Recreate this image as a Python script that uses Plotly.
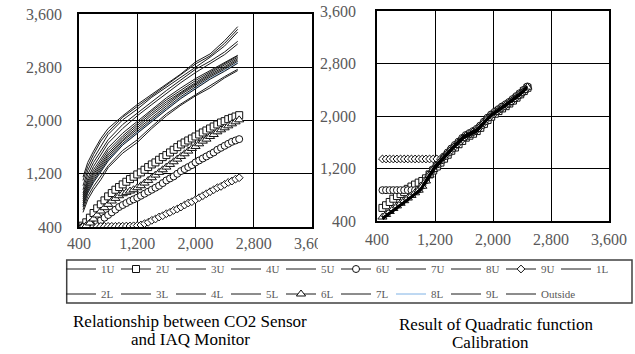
import plotly.graph_objects as go

# ---------------- Left chart data (CO2 sensor vs IAQ monitor) ----------------
L_X = [455, 520, 600, 700, 800, 1000, 1200, 1400, 1600, 1800, 2000, 2200, 2400, 2580]
L_1U = [1150, 1370, 1540, 1730, 1880, 2070, 2240, 2390, 2540, 2700, 2880, 3000, 3200, 3410]
L_3U = [1100, 1310, 1490, 1690, 1830, 2050, 2210, 2370, 2520, 2680, 2850, 2970, 3160, 3370]
L_4U = [1020, 1250, 1430, 1610, 1790, 2010, 2170, 2350, 2500, 2650, 2810, 2950, 3120, 3330]
L_5U = [960, 1190, 1370, 1550, 1710, 1940, 2110, 2290, 2450, 2610, 2770, 2890, 3030, 3190]
L_7U = [910, 1130, 1310, 1490, 1660, 1880, 2070, 2240, 2410, 2570, 2720, 2850, 2990, 3150]
L_8U = [880, 1090, 1260, 1430, 1590, 1810, 1990, 2170, 2340, 2490, 2630, 2750, 2870, 2980]
L_1L = [850, 1060, 1220, 1390, 1550, 1770, 1960, 2140, 2310, 2460, 2600, 2730, 2850, 2970]
L_2L = [820, 1030, 1190, 1360, 1510, 1740, 1930, 2110, 2280, 2430, 2570, 2710, 2830, 2950]
L_3L = [790, 1000, 1160, 1330, 1480, 1710, 1900, 2080, 2250, 2410, 2550, 2690, 2810, 2930]
L_4L = [760, 970, 1130, 1300, 1450, 1690, 1870, 2050, 2220, 2390, 2530, 2670, 2790, 2910]
L_5L = [730, 940, 1100, 1270, 1420, 1660, 1840, 2020, 2190, 2360, 2500, 2650, 2770, 2890]
L_7L = [700, 910, 1070, 1240, 1390, 1630, 1810, 1990, 2160, 2330, 2470, 2620, 2740, 2860]
L_8L = [720, 920, 1080, 1250, 1400, 1640, 1820, 2000, 2170, 2340, 2480, 2630, 2750, 2870]
L_9L = [660, 860, 1010, 1160, 1320, 1550, 1710, 1910, 2100, 2250, 2390, 2520, 2660, 2770]
L_OUT = [620, 810, 960, 1110, 1290, 1510, 1670, 1880, 2070, 2230, 2370, 2490, 2640, 2750]

LM_X = [450, 500, 550, 600, 650, 700, 750, 800, 850, 900, 950, 1000, 1050, 1100, 1150,
        1200, 1250, 1300, 1350, 1400, 1450, 1500, 1550, 1600, 1650, 1700, 1750, 1800,
        1850, 1900, 1950, 2000, 2050, 2100, 2150, 2200, 2250, 2300, 2350, 2400, 2450,
        2500, 2550, 2600]
LM_2U = [420, 470, 540, 610, 680, 740, 800, 860, 910, 960, 1000, 1040, 1080, 1120, 1155,
         1190, 1220, 1260, 1300, 1340, 1370, 1410, 1450, 1480, 1520, 1560, 1600, 1640,
         1670, 1700, 1730, 1760, 1790, 1820, 1850, 1880, 1910, 1940, 1970, 1990, 2020,
         2040, 2060, 2080]
LM_6L = [400, 420, 460, 520, 580, 640, 690, 740, 790, 830, 870, 900, 920, 940, 960,
         990, 1020, 1060, 1100, 1140, 1180, 1220, 1260, 1300, 1340, 1380, 1420, 1460,
         1500, 1540, 1580, 1610, 1650, 1690, 1720, 1760, 1790, 1830, 1860, 1890, 1920,
         1950, 1980, 2010]
LM_6U = [400, 410, 420, 440, 470, 500, 540, 580, 620, 660, 700, 730, 760, 790, 815,
         840, 870, 900, 930, 960, 990, 1020, 1060, 1100, 1130, 1160, 1200, 1240,
         1270, 1300, 1330, 1370, 1400, 1430, 1460, 1490, 1520, 1560, 1590, 1620, 1650,
         1680, 1700, 1720]
LM_9U = [410, 410, 410, 410, 410, 410, 410, 410, 410, 410, 412, 412, 414, 415, 418,
         422, 430, 450, 470, 500, 520, 550, 570, 600, 620, 650, 670, 700,
         730, 760, 780, 810, 840, 870, 900, 930, 960, 990, 1010, 1040, 1070,
         1090, 1120, 1140]

# ---------------- Right chart data (after quadratic calibration) ----------------
R_X = [480, 600, 700, 800, 900, 1000, 1100, 1200, 1450, 1600, 1780, 1960, 2190, 2370, 2470]
R_1U = [445, 540, 625, 710, 795, 885, 1060, 1230, 1525, 1690, 1790, 2005, 2185, 2340, 2450]
R_3U = [435, 530, 615, 700, 785, 870, 1040, 1210, 1510, 1670, 1770, 1990, 2170, 2320, 2430]
R_4U = [450, 545, 630, 715, 800, 890, 1070, 1240, 1535, 1700, 1800, 2015, 2195, 2345, 2455]
R_5U = [430, 525, 610, 695, 780, 865, 1030, 1200, 1500, 1665, 1765, 1985, 2165, 2315, 2425]
R_7U = [440, 535, 620, 705, 790, 880, 1050, 1220, 1520, 1680, 1780, 2000, 2180, 2330, 2440]
R_8U = [455, 550, 635, 720, 805, 895, 1080, 1250, 1540, 1705, 1810, 2020, 2200, 2350, 2460]
R_1L = [425, 520, 605, 690, 775, 860, 1020, 1190, 1495, 1660, 1760, 1980, 2160, 2310, 2420]
R_2L = [445, 538, 622, 708, 792, 882, 1055, 1225, 1522, 1684, 1785, 2002, 2183, 2333, 2443]
R_3L = [438, 532, 618, 702, 788, 876, 1045, 1215, 1515, 1676, 1775, 1996, 2176, 2326, 2436]
R_4L = [448, 542, 628, 712, 798, 888, 1065, 1235, 1530, 1695, 1795, 2010, 2190, 2340, 2450]
R_5L = [432, 528, 612, 698, 782, 868, 1035, 1205, 1505, 1668, 1768, 1988, 2168, 2318, 2428]
R_7L = [442, 536, 621, 706, 791, 879, 1048, 1218, 1518, 1678, 1778, 1998, 2178, 2328, 2438]
R_8L = [446, 541, 626, 711, 796, 886, 1062, 1232, 1528, 1692, 1792, 2008, 2188, 2338, 2448]
R_9L = [436, 531, 616, 701, 786, 872, 1042, 1212, 1512, 1672, 1772, 1992, 2172, 2322, 2432]
R_OUT = [441, 537, 619, 704, 789, 878, 1052, 1222, 1521, 1682, 1782, 2001, 2181, 2331, 2441]

RM_X = [475, 525, 575, 625, 675, 725, 775, 825, 875, 925, 975, 1025, 1075, 1125, 1175,
        1225, 1275, 1325, 1375, 1425, 1475, 1525, 1575, 1625, 1675, 1725, 1775, 1825,
        1875, 1925, 1975, 2025, 2075, 2125, 2175, 2225, 2275, 2325, 2375, 2425, 2475]
RM_2U = [600, 640, 690, 740, 780, 810, 840, 890, 925, 955, 985, 1010, 1050, 1110, 1170,
         1230, 1290, 1350, 1410, 1470, 1520, 1570, 1620, 1670, 1700, 1730, 1770, 1820,
         1880, 1940, 1990, 2035, 2075, 2115, 2150, 2190, 2235, 2280, 2330, 2380, 2430]
RM_6U = [870, 870, 870, 870, 870, 870, 870, 870, 870, 870, 880, 940, 1020, 1110, 1190,
         1260, 1320, 1385, 1445, 1505, 1560, 1610, 1665, 1710, 1740, 1770, 1805, 1855,
         1915, 1975, 2025, 2065, 2105, 2145, 2180, 2215, 2260, 2305, 2350, 2400, 2450]
RM_9U = [1345, 1345, 1345, 1345, 1345, 1345, 1345, 1345, 1345, 1345, 1345, 1345, 1345, 1345, 1345,
         1345, 1345, 1375, 1425, 1480, 1535, 1585, 1640, 1690, 1720, 1750, 1785, 1835,
         1895, 1955, 2005, 2045, 2085, 2125, 2160, 2195, 2240, 2285, 2330, 2380, 2430]
RM_6L = [460, 500, 545, 590, 630, 670, 710, 750, 790, 830, 870, 930, 1010, 1100, 1185,
         1255, 1315, 1375, 1435, 1495, 1550, 1600, 1655, 1700, 1730, 1760, 1795, 1845,
         1905, 1965, 2015, 2055, 2095, 2135, 2170, 2205, 2250, 2295, 2340, 2390, 2440]

TICK_VALS = [400, 1200, 2000, 2800, 3600]
TICK_TEXT = ["400", "1,200", "2,000", "2,800", "3,600"]
CAPTION_LEFT = ["Relationship between CO2 Sensor", "and IAQ Monitor"]
CAPTION_RIGHT = ["Result of Quadratic function", "Calibration"]

W, H = 635, 354
SERIF = "'Liberation Serif', 'Times New Roman', Times, serif"
LINE_C = "#1a1a1a"


def px(v):
    return v / W


def py(v):
    return 1 - v / H


line_series = [
    ("1U", 1, L_1U, R_1U), ("3U", 3, L_3U, R_3U), ("4U", 4, L_4U, R_4U),
    ("5U", 5, L_5U, R_5U), ("7U", 7, L_7U, R_7U), ("8U", 8, L_8U, R_8U),
    ("1L", 10, L_1L, R_1L), ("2L", 11, L_2L, R_2L), ("3L", 12, L_3L, R_3L),
    ("4L", 13, L_4L, R_4L), ("5L", 14, L_5L, R_5L), ("7L", 16, L_7L, R_7L),
    ("9L", 18, L_9L, R_9L), ("Outside", 19, L_OUT, R_OUT),
]
marker_series = [
    ("2U", 2, LM_2U, RM_2U, "square", 7),
    ("6U", 6, LM_6U, RM_6U, "circle", 7),
    ("9U", 9, LM_9U, RM_9U, "diamond", 6),
    ("6L", 15, LM_6L, RM_6L, "triangle-up", 8),
]

fig = go.Figure()


def which_legend(rank):
    return "legend" if rank <= 10 else "legend2"


fig.add_trace(go.Scatter(x=L_X, y=L_8L, mode="lines", name="8L",
                         line=dict(color="#7fb2e5", width=1),
                         legendrank=17, legend="legend2", xaxis="x", yaxis="y"))
for name, rank, ly, ry in line_series:
    fig.add_trace(go.Scatter(x=L_X, y=ly, mode="lines", name=name,
                             line=dict(color=LINE_C, width=1),
                             legendrank=rank, legend=which_legend(rank),
                             legendwidth=(45 if name == "Outside" else None),
                             xaxis="x", yaxis="y"))
for name, rank, ly, ry, sym, sz in marker_series:
    fig.add_trace(go.Scatter(x=LM_X, y=ly, mode="lines+markers", name=name,
                             line=dict(color=LINE_C, width=1),
                             marker=dict(symbol=sym, size=sz, color="white",
                                         line=dict(color="#111111", width=1)),
                             legendrank=rank, legend=which_legend(rank),
                             xaxis="x", yaxis="y"))

for name, rank, ly, ry, sym, sz in marker_series:
    fig.add_trace(go.Scatter(x=RM_X, y=ry, mode="lines+markers", name=name,
                             line=dict(color=LINE_C, width=1),
                             marker=dict(symbol=sym, size=sz, color="white",
                                         line=dict(color="#111111", width=1)),
                             showlegend=False, xaxis="x2", yaxis="y2"))
fig.add_trace(go.Scatter(x=R_X, y=R_8L, mode="lines", name="8L",
                         line=dict(color="#4d7a35", width=1.2),
                         showlegend=False, xaxis="x2", yaxis="y2"))
for name, rank, ly, ry in line_series:
    fig.add_trace(go.Scatter(x=R_X, y=ry, mode="lines", name=name,
                             line=dict(color="#000000", width=1.3),
                             showlegend=False, xaxis="x2", yaxis="y2"))

axis_common = dict(
    range=[400, 3600], tickvals=TICK_VALS, ticktext=TICK_TEXT,
    showgrid=True, gridcolor="#000000", gridwidth=1,
    showline=True, linecolor="#000000", linewidth=1.5, mirror=True,
    zeroline=False, ticks="", automargin=False,
    tickfont=dict(family=SERIF, size=16, color="#595959"),
)

leg_common = dict(orientation="h", x=px(61), xanchor="left", yanchor="middle",
                  bgcolor="rgba(0,0,0,0)", borderwidth=0, entrywidth=10,
                  entrywidthmode="pixels", tracegroupgap=0,
                  font=dict(family=SERIF, size=11, color="#595959"))

cap_font = dict(family=SERIF, size=17, color="#000000")

fig.update_layout(
    width=W, height=H,
    margin=dict(l=0, r=0, t=0, b=0, autoexpand=False),
    paper_bgcolor="white", plot_bgcolor="white",
    xaxis=dict(axis_common, domain=[px(79), px(312)], anchor="y", ticklabelstandoff=1),
    yaxis=dict(axis_common, domain=[py(227), py(14)], anchor="x", ticklabelstandoff=12),
    xaxis2=dict(axis_common, domain=[px(377), px(609)], anchor="y2", ticklabelstandoff=3),
    yaxis2=dict(axis_common, domain=[py(221), py(11)], anchor="x2", ticklabelstandoff=16),
    legend=dict(leg_common, y=py(269)),
    legend2=dict(leg_common, y=py(294)),
    shapes=[
        dict(type="rect", xref="paper", yref="paper", x0=px(318), x1=px(340),
             y0=py(256), y1=py(231), line=dict(width=0), fillcolor="white", layer="above"),
        dict(type="rect", xref="paper", yref="paper", x0=px(66.7), x1=px(632),
             y0=py(303), y1=py(260), line=dict(color="#404040", width=1.5),
             fillcolor="white", layer="above"),
    ],
    annotations=[
        dict(text=CAPTION_LEFT[0], x=px(190), y=py(321), xref="paper", yref="paper",
             showarrow=False, xanchor="center", yanchor="middle", font=cap_font),
        dict(text=CAPTION_LEFT[1], x=px(190), y=py(339), xref="paper", yref="paper",
             showarrow=False, xanchor="center", yanchor="middle", font=cap_font),
        dict(text=CAPTION_RIGHT[0], x=px(496), y=py(324), xref="paper", yref="paper",
             showarrow=False, xanchor="center", yanchor="middle", font=cap_font),
        dict(text=CAPTION_RIGHT[1], x=px(490), y=py(342), xref="paper", yref="paper",
             showarrow=False, xanchor="center", yanchor="middle", font=cap_font),
    ],
)

fig.write_html("out.html", config={"displayModeBar": False},
               post_script="document.body.style.margin='0';document.body.style.padding='0';")
